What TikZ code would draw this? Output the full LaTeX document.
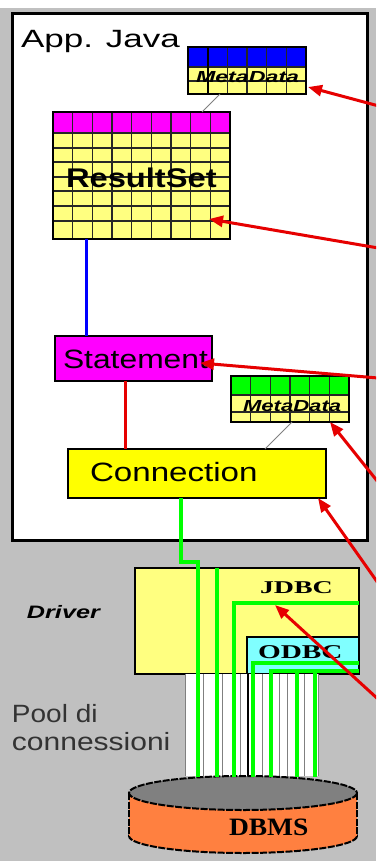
\documentclass[tikz,border=0pt]{standalone}
\usepackage{fontspec}
\setmainfont{Liberation Sans}
\newfontfamily\dbfont{Liberation Serif}
\usetikzlibrary{arrows.meta}

\definecolor{slidegray}{RGB}{192,192,192}
\definecolor{paleyellow}{RGB}{255,255,128}
\definecolor{rsmagenta}{RGB}{255,0,255}
\definecolor{mdblue}{RGB}{0,0,255}
\definecolor{mdgreen}{RGB}{0,255,0}
\definecolor{connyellow}{RGB}{255,255,0}
\definecolor{odbccyan}{RGB}{128,255,255}
\definecolor{dbmsorange}{RGB}{255,128,64}
\definecolor{dbmsgray}{RGB}{128,128,128}
\definecolor{arrowred}{RGB}{230,0,0}

\begin{document}
\begin{tikzpicture}[x=1pt, y=-1pt,
    box/.style={draw, line width=2pt, anchor=north west, inner sep=0pt, outer sep=0pt},
    tablebox/.style={fill=paleyellow, anchor=north west, inner sep=0pt, outer sep=0pt},
    gridline/.style={black!85, line width=1.2pt},
    txt/.style={anchor=base west, inner sep=0pt, outer sep=0pt},
    link/.style={gray, line width=0.8pt},
    wire/.style={mdgreen, line width=4pt},
    dbline/.style={black, line width=2pt, dash pattern=on 7pt off 1.5pt},
    pointer/.style={arrowred, line width=3pt, -{Triangle[length=14pt, width=11pt]}}]
    \useasboundingbox (0,0) rectangle (376,861);
    \clip (0,0) rectangle (376,861);

    % Slide background
    \fill[slidegray] (0,0) rectangle (376,861);
    \fill[white] (0,0) rectangle (376,8);

    % Application frame
    \draw[line width=3pt, fill=white] (12,14) rectangle (367,540);
    \node[txt, font={\fontsize{25}{30}\selectfont}, xscale=1.4] (appjava) at (21,48) {App. Java};

    % ResultSet metadata
    \node[tablebox, minimum width=118, minimum height=47] (rsmeta) at (188,47) {};
    \fill[mdblue] (rsmeta.north west) rectangle ([yshift=-20pt]rsmeta.north east);
    \foreach \i in {1,...,5} \draw[gridline] ([xshift=\i*19.67pt]rsmeta.north west) -- ([xshift=\i*19.67pt]rsmeta.south west);
    \foreach \j in {20,34} \draw[gridline] ([yshift=-\j*1pt]rsmeta.north west) -- ([yshift=-\j*1pt]rsmeta.north east);
    \draw[line width=2pt] ([xshift=19.67pt]rsmeta.north west) -- ([xshift=19.67pt]rsmeta.south west);
    \draw[line width=2pt] (rsmeta.north west) rectangle (rsmeta.south east);
    \node[txt, font={\fontsize{16}{16}\selectfont\bfseries\itshape}, xscale=1.45] (rsmetatext) at (196,83) {MetaData};

    % ResultSet
    \node[tablebox, minimum width=177, minimum height=127] (rs) at (53,112) {};
    \fill[rsmagenta] (rs.north west) rectangle ([yshift=-21pt]rs.north east);
    \foreach \i in {1,...,8} \draw[gridline] ([xshift=\i*19.67pt]rs.north west) -- ([xshift=\i*19.67pt]rs.south west);
    \foreach \j in {21,36,50,65,79,94,109} \draw[gridline] ([yshift=-\j*1pt]rs.north west) -- ([yshift=-\j*1pt]rs.north east);
    \draw[line width=2pt] (rs.north west) rectangle (rs.south east);
    \node[txt, font={\fontsize{27}{30}\selectfont\bfseries}, xscale=1.21] (rstext) at (66,187) {ResultSet};
    \draw[link] ([xshift=32pt]rsmeta.south west) -- ([xshift=149pt]rs.north west);

    % Statement
    \node[box, fill=rsmagenta, minimum width=157, minimum height=45] (stmt) at (55,336) {};
    \node[txt, font={\fontsize{26.5}{30}\selectfont}, xscale=1.2] (stmttext) at (63,368) {Statement};
    \draw[mdblue, line width=3pt] ([xshift=33pt]rs.south west) -- ([xshift=33pt]rs.south west |- stmt.north);

    % Connection metadata
    \node[tablebox, minimum width=118, minimum height=46] (dbmeta) at (231,376) {};
    \fill[mdgreen] (dbmeta.north west) rectangle ([yshift=-19pt]dbmeta.north east);
    \foreach \i in {1,...,5} \draw[gridline] ([xshift=\i*19.67pt]dbmeta.north west) -- ([xshift=\i*19.67pt]dbmeta.south west);
    \foreach \j in {19,36} \draw[gridline] ([yshift=-\j*1pt]dbmeta.north west) -- ([yshift=-\j*1pt]dbmeta.north east);
    \draw[line width=2pt] (dbmeta.north west) rectangle (dbmeta.south east);
    \node[txt, font={\fontsize{16}{16}\selectfont\bfseries\itshape}, xscale=1.38] (dbmetatext) at (243,411) {MetaData};

    % Connection
    \node[box, fill=connyellow, minimum width=258, minimum height=49] (conn) at (68,449) {};
    \node[txt, font={\fontsize{26.5}{30}\selectfont}, xscale=1.25] (conntext) at (90,481) {Connection};
    \draw[arrowred, line width=3pt] ([xshift=70pt]stmt.south west) -- ([xshift=70pt]stmt.south west |- conn.north);
    \draw[link] ([xshift=61pt]dbmeta.south west) -- ([xshift=197pt]conn.north west);

    % Driver
    \node[box, fill=paleyellow, minimum width=224, minimum height=106] (jdbc) at (135,568) {};
    \node[box, fill=odbccyan, minimum width=112, minimum height=37] (odbc) at (247,637) {};
    \node[txt, font={\dbfont\fontsize{18}{20}\selectfont\bfseries}, xscale=1.55] (jdbctext) at (260,593) {JDBC};
    \node[txt, font={\dbfont\fontsize{19.5}{20}\selectfont\bfseries}, xscale=1.5] (odbctext) at (258,658) {ODBC};
    \node[txt, font={\fontsize{18}{20}\selectfont\bfseries\itshape}, xscale=1.4] (drivertext) at (27,618) {Driver};

    % Pool di connessioni
    \fill[white] (185,674) rectangle (318,776);
    \foreach \x in {185,203,222,240,262,279,287,304,318} \draw[gray, line width=0.8pt] (\x,674) -- (\x,776);
    \draw[black, line width=1.5pt] (248,674) -- (248,776);
    \node[txt, font={\fontsize{25}{28}\selectfont}, text=black!80, xscale=1.12] (pooltext) at (12,722) {Pool di};
    \node[txt, font={\fontsize{25}{28}\selectfont}, text=black!80, xscale=1.2] (conntextb) at (12,750) {connessioni};

    % DBMS
    \draw[dbline, fill=dbmsorange] (243,836) ellipse [x radius=114, y radius=17];
    \fill[dbmsorange] (129,793) rectangle (357,836);
    \draw[dbline] (129,793) -- (129,836);
    \draw[dbline] (357,793) -- (357,836);
    \draw[dbline, fill=dbmsgray] (243,793) ellipse [x radius=114, y radius=17];
    \coordinate (dbtop) at (243,777);
    \node[txt, font={\dbfont\fontsize{25}{28}\selectfont\bfseries}, xscale=1.1] (dbmstext) at (229,835) {DBMS};

    % Connections in the pool
    \draw[wire] ([xshift=113pt]conn.south west) -- ++(0,64) -- ++(17,0) -- (198,0 |- dbtop);
    \draw[wire] (217,0 |- jdbc.north) -- (217,0 |- dbtop);
    \draw[wire] (jdbc.east |- 0,603) -| (234,0 |- dbtop);
    \draw[wire] (jdbc.east |- 0,663) -| (253,0 |- dbtop);
    \draw[wire] (jdbc.east |- 0,671) -| (271,0 |- dbtop);
    \foreach \x in {297,315} \draw[wire] (\x,671) -- (\x,0 |- dbtop);

    % Pointers
    \coordinate (p1) at (390,109);
    \coordinate (p2) at (390,250);
    \coordinate (p3) at (390,379);
    \coordinate (p4) at (390,497);
    \coordinate (p5) at (390,600);
    \coordinate (p6) at (390,710);
    \draw[pointer] (p1) -- ([xshift=2pt,yshift=7pt]rsmeta.south east);
    \draw[pointer] (p2) -- ([xshift=-21pt,yshift=20pt]rs.south east);
    \draw[pointer] (p3) -- ([xshift=-12pt,yshift=18pt]stmt.south east);
    \draw[pointer] (p4) -- ([xshift=-19pt]dbmeta.south east);
    \draw[pointer] (p5) -- ([xshift=-8pt]conn.south east);
    \draw[pointer] (p6) -- ([xshift=140pt,yshift=-37pt]jdbc.north west);
\end{tikzpicture}
\end{document}
